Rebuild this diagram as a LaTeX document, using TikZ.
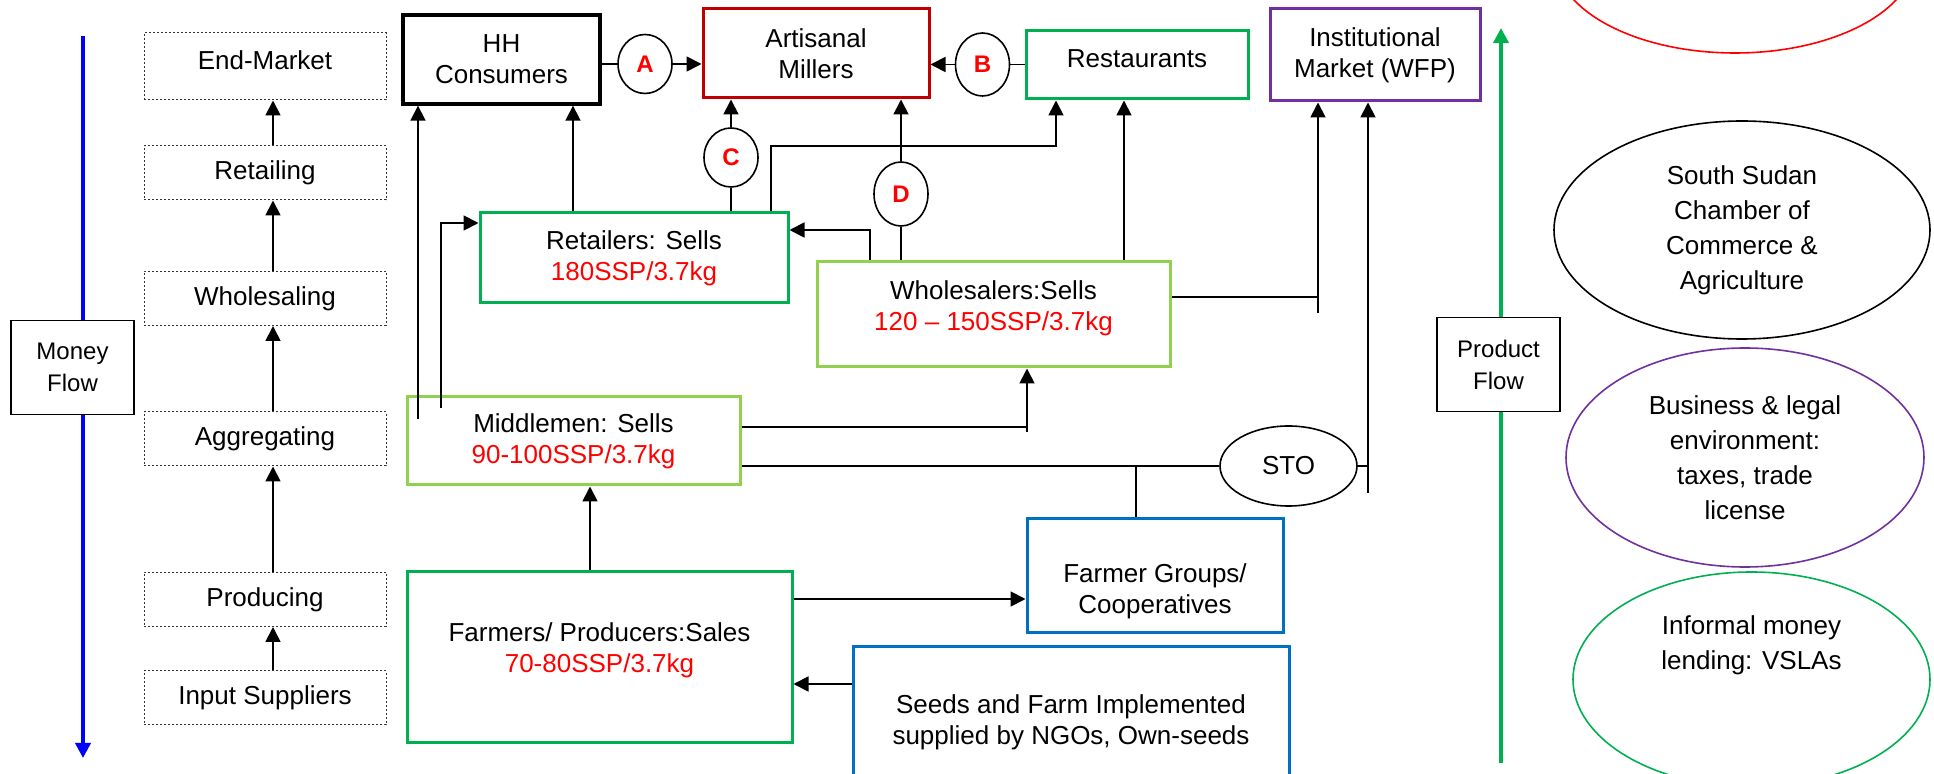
\documentclass[tikz,border=0pt]{standalone}
\usepackage{fontspec}
\setmainfont{Liberation Sans}
\usepackage{tikz}
\usetikzlibrary{shapes.geometric, arrows.meta, positioning}
\definecolor{darkred}{HTML}{C00000}
\definecolor{grn}{HTML}{00B050}
\definecolor{lgrn}{HTML}{92D050}
\definecolor{purp}{HTML}{7030A0}
\definecolor{blu}{HTML}{0070C0}
\tikzstyle{arrow} = [line width=0.9pt,-{Triangle[length=7.5pt,width=7.5pt]}]
\tikzstyle{link} = [line width=0.9pt]
\tikzstyle{flowline} = [line width=1.8pt]
\tikzstyle{stage} = [draw=black!80, line width=0.5pt, dash pattern=on 1pt off 1pt, minimum width=121pt, minimum height=27pt, inner sep=0pt]
\tikzstyle{actor} = [draw, line width=1.5pt, inner sep=0pt, align=center]
\tikzstyle{letter} = [draw, ellipse, line width=0.8pt, inner sep=0pt, minimum width=27pt, minimum height=29.5pt, text=red, font=\fontsize{12}{13}\selectfont\bfseries]
\tikzstyle{support} = [draw, ellipse, line width=0.8pt, align=center, font=\fontsize{13}{17.5}\selectfont]
\tikzstyle{flowbox} = [draw, line width=0.9pt, minimum width=61.5pt, minimum height=47pt, align=center, font=\fontsize{12}{16}\selectfont]
\newcommand{\price}[1]{\textcolor{red}{#1}}

\begin{document}
\begin{tikzpicture}[thick, x=0.5pt, y=-0.5pt, font=\fontsize{13}{15.5}\selectfont]
  \clip (0,0) rectangle (1934,774);

  % Money flow and product flow
  \node[flowbox] (money) at (72.5,367.5) {Money\\Flow};
  \node[flowbox] (product) at (1498.5,364.5) {Product\\Flow};
  \coordinate (mtop) at (83,36);
  \coordinate (mend) at (83,758);
  \draw[flowline, blue] (mtop) -- (money.north -| mtop);
  \draw[flowline, blue, -{Triangle[length=7.5pt,width=7.5pt]}] (money.south -| mtop) -- (mend);
  \coordinate (ptop) at (1501,28);
  \coordinate (pend) at (1501,763);
  \draw[flowline, grn, -{Triangle[length=7.5pt,width=7.5pt]}] (product.north -| ptop) -- (ptop);
  \draw[flowline, grn] (product.south -| pend) -- (pend);

  % Value chain stages
  \node[stage, minimum height=33.5pt, text depth=6pt] (endm) at (265,66.5) {End-Market};
  \node[stage] (retl) at (265,173) {Retailing};
  \node[stage] (whol) at (265,298.5) {Wholesaling};
  \node[stage] (aggr) at (265,439) {Aggregating};
  \node[stage] (prod) at (265,599.5) {Producing};
  \node[stage] (inps) at (265,698) {Input Suppliers};
  \coordinate (sx) at (273,0);
  \draw[arrow] (inps.north -| sx) -- (prod.south -| sx);
  \draw[arrow] (prod.north -| sx) -- (aggr.south -| sx);
  \draw[arrow] (aggr.north -| sx) -- (whol.south -| sx);
  \draw[arrow] (whol.north -| sx) -- (retl.south -| sx);
  \draw[arrow] (retl.north -| sx) -- (endm.south -| sx);

  % Market actors
  \node[actor, line width=1.7pt, minimum width=98.5pt, minimum height=44.5pt] (hh) at (501.5,59.5) {HH\\Consumers};
  \node[actor, draw=darkred, minimum width=113pt, minimum height=44.5pt] (mill) at (816,53.5) {Artisanal\\Millers};
  \node[actor, draw=grn, minimum width=111pt, minimum height=34pt, text depth=6pt] (rest) at (1137,65) {Restaurants};
  \node[actor, draw=purp, minimum width=105pt, minimum height=46pt] (inst) at (1375,55) {Institutional\\Market (WFP)};
  \node[actor, draw=grn, minimum width=154pt, minimum height=45pt] (ret) at (634,258) {Retailers: Sells\\\price{180SSP/3.7kg}};
  \node[actor, draw=lgrn, minimum width=176.5pt, minimum height=52.5pt] (whs) at (993.5,314.5) {};
  \node[align=center] (whstext) at (993.5,308) {Wholesalers:Sells\\\price{120 – 150SSP/3.7kg}};
  \node[actor, draw=lgrn, minimum width=166.5pt, minimum height=44pt] (mid) at (573.5,441) {Middlemen: Sells\\\price{90-100SSP/3.7kg}};
  \node[actor, draw=grn, minimum width=192.5pt, minimum height=85.5pt] (farm) at (599.5,657.5) {};
  \node[align=center] (farmtext) at (599.5,650) {Farmers/ Producers:Sales\\\price{70-80SSP/3.7kg}};
  \node[actor, draw=blu, minimum width=128pt, minimum height=57pt] (fgrp) at (1155,576) {};
  \node[align=center] (fgrptext) at (1155,591) {Farmer Groups/\\Cooperatives};
  \node[actor, draw=blu, minimum width=218pt, minimum height=75pt] (seed) at (1071,722) {Seeds and Farm Implemented\\supplied by NGOs, Own-seeds};

  % Letters A-D and STO
  \node[letter] (cA) at (645,64) {A};
  \node[letter, minimum height=31.5pt] (cB) at (982.5,64.5) {B};
  \node[letter] (cC) at (731,157.5) {C};
  \node[letter, minimum height=32pt] (cD) at (901,194) {D};
  \node[draw, ellipse, line width=0.8pt, minimum width=68.5pt, minimum height=40pt] (sto) at (1288.5,466) {STO};

  % Support services
  \node[support, draw=red, minimum width=180pt, minimum height=96pt] (topoval) at (1735,-43) {};
  \node[support, minimum width=188pt, minimum height=109pt] (chamber) at (1742,230) {South Sudan\\Chamber of\\Commerce \&\\Agriculture};
  \node[support, draw=purp, minimum width=179pt, minimum height=109.5pt] (biz) at (1745,457.5) {Business \& legal\\environment:\\taxes, trade\\license};
  \node[support, draw=grn, minimum width=178.5pt, minimum height=107.5pt] (vsla) at (1751.5,679.5) {};
  \node[align=center, font=\fontsize{13}{17.5}\selectfont] (vslatext) at (1751.5,645) {Informal money\\lending: VSLAs};

  % Top row with A and B
  \draw[link] (hh.east |- cA) -- (cA);
  \draw[arrow] (cA) -- (cA -| mill.west);
  \draw[link] (rest.west |- cB) -- (cB);
  \draw[arrow] (cB) -- (cB -| mill.east);

  % C and D into millers
  \draw[link] (ret.north -| cC) -- (cC);
  \draw[arrow] (cC) -- (mill.south -| cC);
  \draw[link] (whs.north -| cD) -- (cD);
  \draw[arrow] (cD) -- (mill.south -| cD);

  % Retailers
  \coordinate (rr1) at (771,146);
  \coordinate (rr2) at (1056,146);
  \draw[arrow] (ret.north -| rr1) -- (rr1) -- (rr2) -- (rest.south -| rr2);
  \coordinate (rh) at (573,0);
  \draw[arrow] (ret.north -| rh) -- (hh.south -| rh);

  % Wholesalers
  \coordinate (wr) at (870,230);
  \draw[arrow] (whs.north -| wr) -- (wr) -- (ret.east |- wr);
  \coordinate (wrs) at (1124,0);
  \draw[arrow] (whs.north -| wrs) -- (rest.south -| wrs);
  \coordinate (wi) at (1318,297);
  \coordinate (wib) at (1318,313);
  \draw[link] (whs.east |- wi) -- (wi);
  \draw[arrow] (wib) -- (inst.south -| wi);

  % Middlemen
  \coordinate (mh) at (418,419);
  \draw[arrow] (mh) -- (hh.south -| mh);
  \coordinate (mr) at (441,408);
  \coordinate (mr2) at (441,223);
  \draw[arrow] (mr) -- (mr2) -- (ret.west |- mr2);
  \coordinate (mw) at (1027,427);
  \coordinate (mwb) at (1027,432);
  \draw[link] (mid.east |- mw) -- (mw);
  \draw[arrow] (mwb) -- (whs.south -| mw);
  \coordinate (mf) at (1136,466);
  \draw[link] (mid.east |- mf) -- (sto);
  \draw[link] (mf) -- (fgrp.north -| mf);
  \coordinate (si) at (1368,466);
  \coordinate (sib) at (1368,493);
  \draw[link] (sto) -- (si);
  \draw[arrow] (sib) -- (inst.south -| si);

  % Farmers
  \coordinate (fm) at (590,0);
  \draw[arrow] (farm.north -| fm) -- (mid.south -| fm);
  \coordinate (ff) at (0,599);
  \draw[arrow] (farm.east |- ff) -- (fgrp.west |- ff);
  \coordinate (sf) at (0,684);
  \draw[arrow] (seed.west |- sf) -- (farm.east |- sf);
\end{tikzpicture}
\end{document}
